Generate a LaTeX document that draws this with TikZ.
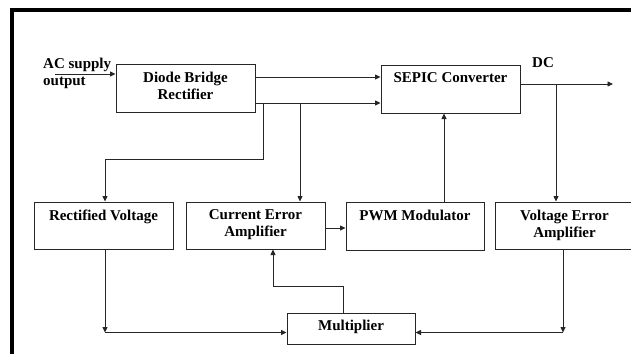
\documentclass[tikz,border=0pt]{standalone}
\usepackage{fontspec}
\setmainfont{Liberation Serif}
\usetikzlibrary{arrows.meta}
\tikzset{
  block/.style={draw=black!85, line width=1pt, minimum width=139pt, minimum height=47pt, inner sep=0pt},
  txt/.style={font=\fontsize{15}{17}\selectfont\bfseries, align=center, inner sep=0pt},
  wire/.style={draw=black!85, line width=0.8pt},
  arr/.style={wire, -{Triangle[length=5.5pt,width=5pt]}},
  frameline/.style={line width=4pt, draw=black}
}
\begin{document}
\begin{tikzpicture}[x=1pt,y=-1pt]
\useasboundingbox (0,0) rectangle (631,353);
% frame (top and left edges)
\draw[frameline] (12,10) -- (640,10);
\draw[frameline] (12,8) -- (12,360);

% blocks
\node[block, minimum height=48pt, label={[txt, anchor=north, yshift=-8pt]north:Diode Bridge\\Rectifier}] (rect) at (185.5,88) {};
\node[block, minimum height=48pt, label={[txt, anchor=north, yshift=-8pt]north:SEPIC Converter}] (sepic) at (450.5,89) {};
\node[block, label={[txt, anchor=north, yshift=-8pt]north:Rectified Voltage}] (rv) at (103.5,225.5) {};
\node[block, label={[txt, anchor=north, yshift=-8pt]north:Current Error\\Amplifier}] (cea) at (255.5,225.5) {};
\node[block, minimum width=138pt, minimum height=48pt, label={[txt, anchor=north, yshift=-8pt]north:PWM Modulator}] (pwm) at (415,226) {};
\node[block, label={[txt, anchor=north, yshift=-8pt]north:Voltage Error\\Amplifier}] (vea) at (564.5,225.5) {};
\node[block, minimum width=128pt, minimum height=31pt, label={[txt, anchor=north, yshift=-7pt]north:Multiplier}] (mult) at (351,328.5) {};

% outside labels
\node[txt, align=left, anchor=north west] (aclbl) at (43,58) {AC supply\\output};
\node[txt, anchor=north west] (dclbl) at (532,57) {DC};

% free ends and corners
\coordinate (acin) at (55,74);
\coordinate (dcout) at (613,84);
\coordinate (j1) at (263,103);
\coordinate (j2) at (300,103);
\coordinate (j3) at (556,84);
\coordinate (rvc) at (105,332.5);
\coordinate (vec) at (563,332.5);

% connectors
\draw[arr] (acin) -- (acin -| rect.west);
\draw[arr] (rect.east |- 0,77) -- (sepic.west |- 0,77);
\draw[arr] (rect.east |- 0,103) -- (sepic.west |- 0,103);
\draw[arr] (j1) -- (263,159) -| ([xshift=1.5pt]rv.north);
\draw[arr] (j2) -- (j2 |- cea.north);
\draw[arr] (cea.east |- 0,228) -- (pwm.west |- 0,228);
\draw[arr] (pwm.north -| 444,0) -- (sepic.south -| 444,0);
\draw[arr] (sepic.east |- dcout) -- (dcout);
\draw[arr] (j3) -- (j3 |- vea.north);
\draw[arr] (vea.south -| vec) -- (vec);
\draw[arr] (vec) -- (vec -| mult.east);
\draw[arr] (rv.south -| rvc) -- (rvc);
\draw[arr] (rvc) -- (rvc -| mult.west);
\draw[arr] (mult.north -| 343,0) -- (343,286.5) -- (273,286.5) -- (273,0 |- cea.south);
\end{tikzpicture}
\end{document}
